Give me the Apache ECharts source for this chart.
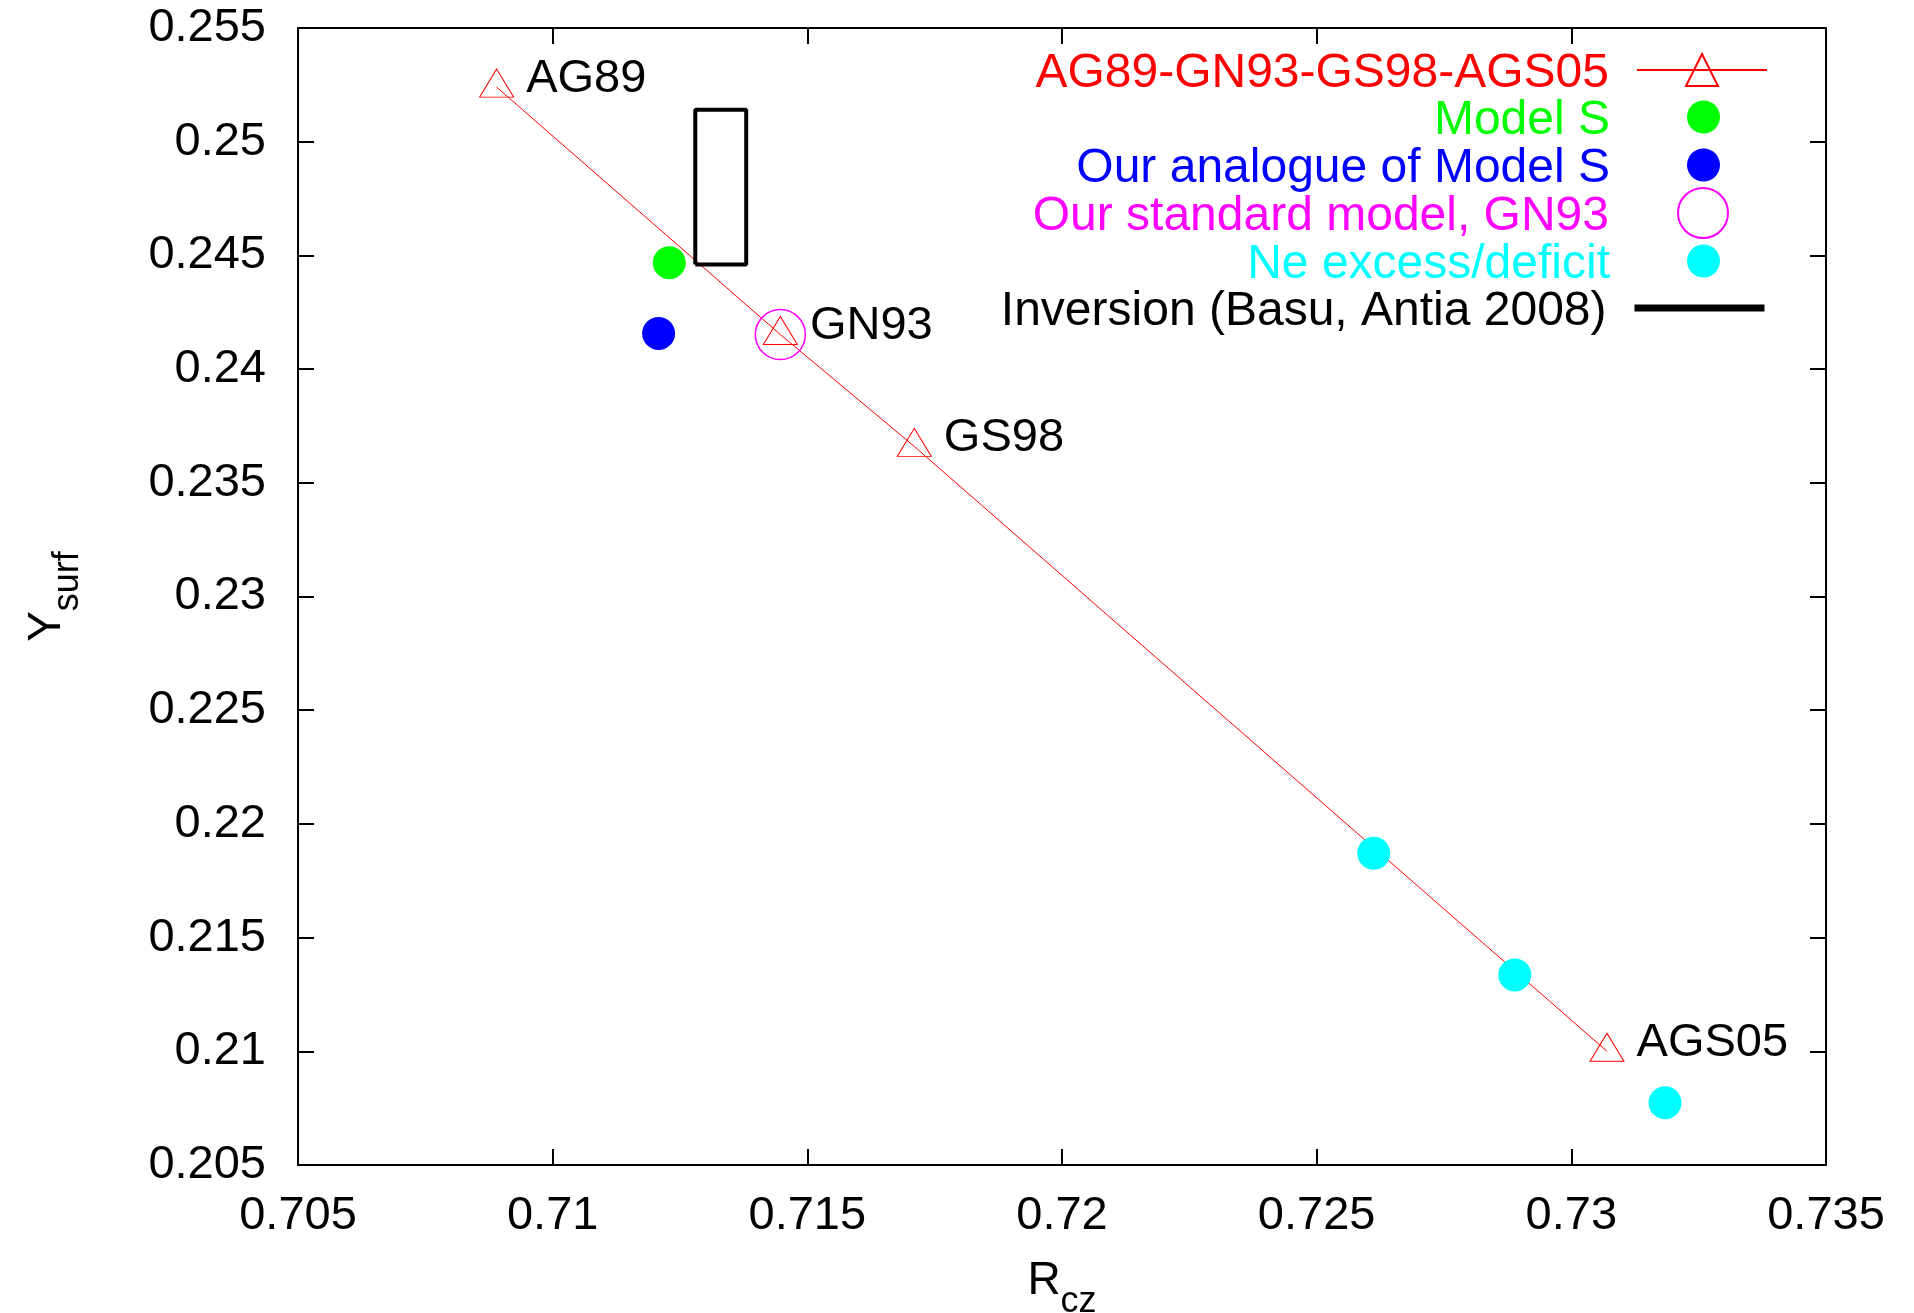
<!DOCTYPE html>
<html>
<head>
<meta charset="utf-8">
<script src="https://cdn.jsdelivr.net/npm/echarts@6/dist/echarts.min.js"></script>
<style>
  html, body { margin: 0; padding: 0; background: #fff; }
  #chart { width: 1914px; height: 1313px; }
</style>
</head>
<body>
<div id="chart"></div>
<script>
// solar mixture models (triangles joined by a line)
var mixNames = ['AG89', 'GN93', 'GS98', 'AGS05'];
var mixR = [0.7089, 0.71447, 0.7171, 0.7307];
var mixY = [0.2524, 0.24152, 0.2366, 0.2100];

var modelSR = [0.71229], modelSY = [0.24468];
var analogR = [0.71208], analogY = [0.24157];
var stdR = [0.71447], stdY = [0.24152];
var neR = [0.72612, 0.72889, 0.73184];
var neY = [0.21871, 0.21336, 0.20774];

// inversion box (Basu, Antia 2008)
var invR = [0.7128, 0.7138];
var invY = [0.2446, 0.2514];

var xTicks = ['0.705', '0.71', '0.715', '0.72', '0.725', '0.73', '0.735'];
var yTicks = ['0.205', '0.21', '0.215', '0.22', '0.225', '0.23', '0.235', '0.24', '0.245', '0.25', '0.255'];

function zip(a, b) { return a.map(function (v, i) { return [v, b[i]]; }); }

var FONT = 'Liberation Sans';
var fmt = function (v) { return String(+v.toFixed(3)); };

var boxPts = [
  [invR[0], invY[0]], [invR[1], invY[0]], [invR[1], invY[1]],
  [invR[0], invY[1]], [invR[0], invY[0]]
];

var names = [
  'AG89-GN93-GS98-AGS05', 'Model S', 'Our analogue of Model S',
  'Our standard model, GN93', 'Ne excess/deficit', 'Inversion (Basu, Antia 2008)'
];
var rowY = [69, 116, 164, 212, 260, 307];

function legendFor(i, color, w, h, iconRight, gap, extra) {
  var l = {
    data: [names[i]],
    orient: 'vertical',
    align: 'right',
    right: 1914 - iconRight,
    top: rowY[i] - 27,
    padding: 0,
    itemWidth: w,
    itemHeight: h,
    selectedMode: false,
    formatter: '{t|{name}}',
    textStyle: {
      rich: {
        t: {
          color: color, fontFamily: FONT, fontSize: 48, lineHeight: 46,
          padding: [8, gap - 5, 0, 0]
        }
      }
    }
  };
  if (extra) Object.assign(l, extra);
  return l;
}

var axisCommon = {
  type: 'value',
  splitLine: { show: false },
  axisLine: { lineStyle: { color: '#000', width: 2 } },
  axisTick: { inside: true, length: 16, lineStyle: { color: '#000', width: 2 } }
};

var chart = echarts.init(document.getElementById('chart'));
chart.setOption({
  animation: false,
  backgroundColor: '#fff',
  grid: { left: 298, top: 28, right: 88, bottom: 148, outerBoundsMode: 'none', containLabel: false },
  legend: [
    legendFor(0, '#ff0000', 130, 40, 1768, 28),
    legendFor(1, '#00ff00', 33, 33, 1720, 77),
    legendFor(2, '#0000ff', 33, 33, 1720, 77),
    legendFor(3, '#ff00ff', 50, 50, 1729, 69),
    legendFor(4, '#00ffff', 33, 33, 1720, 77),
    legendFor(5, '#000000', 130, 40, 1768, 28, { lineStyle: { width: 7 }, itemStyle: { opacity: 0 } })
  ],
  xAxis: [
    Object.assign({}, axisCommon, {
      min: 0.705, max: 0.735, interval: 0.005,
      name: '{a|R}{b|cz}',
      nameLocation: 'middle',
      nameGap: 93,
      nameTextStyle: {
        rich: {
          a: { fontFamily: FONT, fontSize: 46, lineHeight: 46, color: '#000', verticalAlign: 'top' },
          b: { fontFamily: FONT, fontSize: 36, lineHeight: 36, color: '#000', verticalAlign: 'top', padding: [26, 0, 0, 0] }
        }
      },
      axisLabel: {
        margin: 28, color: '#000', fontFamily: FONT, fontSize: 47,
        showMinLabel: true, showMaxLabel: true,
        formatter: function (v) { var s = fmt(v); return xTicks.indexOf(s) >= 0 ? s : ''; }
      }
    }),
    Object.assign({}, axisCommon, {
      position: 'top', min: 0.705, max: 0.735, interval: 0.005,
      axisLabel: { show: false }
    })
  ],
  yAxis: [
    Object.assign({}, axisCommon, {
      min: 0.205, max: 0.255, interval: 0.005,
      name: '{a|Y}{b|surf}',
      nameLocation: 'middle',
      nameGap: 228,
      nameTextStyle: {
        rich: {
          a: { fontFamily: FONT, fontSize: 46, lineHeight: 46, color: '#000', verticalAlign: 'top' },
          b: { fontFamily: FONT, fontSize: 36, lineHeight: 36, color: '#000', verticalAlign: 'top', padding: [26, 0, 0, 0] }
        }
      },
      axisLabel: {
        margin: 32, color: '#000', fontFamily: FONT, fontSize: 47,
        showMinLabel: true, showMaxLabel: true,
        formatter: function (v) { var s = fmt(v); return yTicks.indexOf(s) >= 0 ? s : ''; }
      }
    }),
    Object.assign({}, axisCommon, {
      position: 'right', min: 0.205, max: 0.255, interval: 0.005,
      axisLabel: { show: false }
    })
  ],
  series: [
    {
      name: names[0],
      type: 'line',
      data: zip(mixR, mixY),
      symbol: 'triangle',
      symbolSize: [34, 28],
      symbolOffset: [0, -4],
      lineStyle: { color: '#ff0000', width: 1 },
      itemStyle: { color: 'rgba(255,255,255,0)', borderColor: '#ff0000', borderWidth: 1 },
      label: {
        show: true, position: 'right', distance: 12, offset: [0, -4],
        color: '#000', fontFamily: FONT, fontSize: 47,
        formatter: function (p) { return mixNames[p.dataIndex]; }
      },
      z: 2
    },
    {
      name: names[1], type: 'scatter', data: zip(modelSR, modelSY),
      symbol: 'circle', symbolSize: 33, itemStyle: { color: '#00ff00', opacity: 1 }, z: 3
    },
    {
      name: names[2], type: 'scatter', data: zip(analogR, analogY),
      symbol: 'circle', symbolSize: 33, itemStyle: { color: '#0000ff', opacity: 1 }, z: 3
    },
    {
      name: names[3], type: 'scatter', data: zip(stdR, stdY),
      symbol: 'circle', symbolSize: 50,
      itemStyle: { color: 'rgba(255,255,255,0)', borderColor: '#ff00ff', borderWidth: 1.5, opacity: 1 }, z: 3
    },
    {
      name: names[4], type: 'scatter', data: zip(neR, neY),
      symbol: 'circle', symbolSize: 33, itemStyle: { color: '#00ffff', opacity: 1 }, z: 3
    },
    {
      name: names[5], type: 'line', data: boxPts,
      symbol: 'none', lineStyle: { color: '#000', width: 4 },
      itemStyle: { color: '#000' }, z: 4
    }
  ]
});
</script>
</body>
</html>
